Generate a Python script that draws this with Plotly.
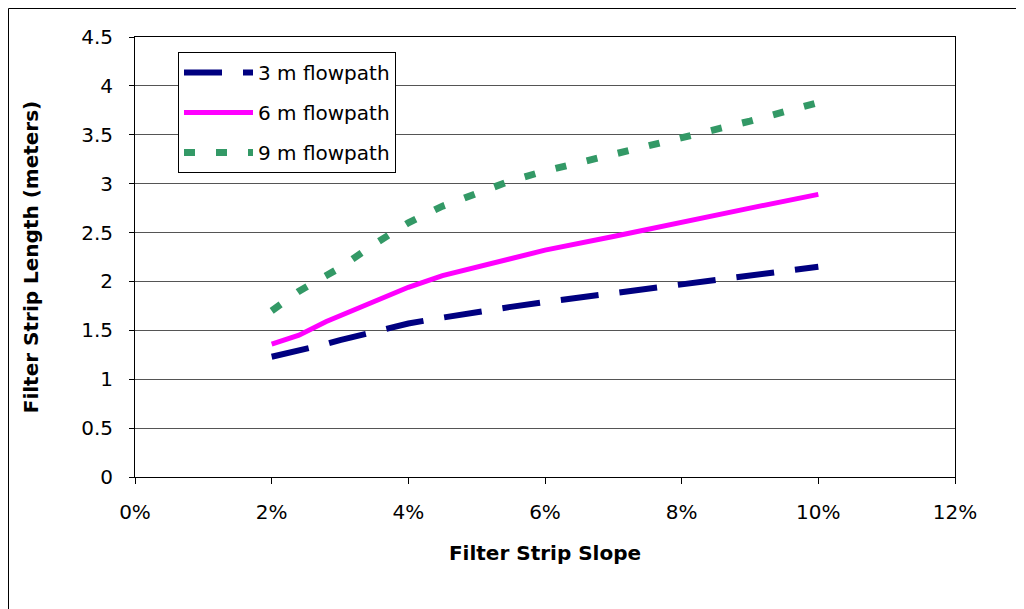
import plotly.graph_objects as go

slope = [0.02, 0.024, 0.028, 0.03, 0.035, 0.04, 0.045, 0.05, 0.055, 0.06, 0.07, 0.074, 0.08, 0.09, 0.10]
flow3 = [1.23, 1.29, 1.36, 1.40, 1.49, 1.57, 1.63, 1.69, 1.74, 1.79, 1.88, 1.91, 1.97, 2.06, 2.15]
flow6 = [1.36, 1.45, 1.59, 1.65, 1.80, 1.94, 2.06, 2.15, 2.24, 2.32, 2.46, 2.52, 2.61, 2.75, 2.89]
flow9 = [1.70, 1.90, 2.06, 2.14, 2.38, 2.60, 2.77, 2.90, 3.03, 3.13, 3.30, 3.37, 3.47, 3.64, 3.83]
names = ["3 m flowpath", "6 m flowpath", "9 m flowpath"]
xticks = [0, 0.02, 0.04, 0.06, 0.08, 0.10, 0.12]
xticklabels = ["0%", "2%", "4%", "6%", "8%", "10%", "12%"]
yticks = [0, 0.5, 1, 1.5, 2, 2.5, 3, 3.5, 4, 4.5]
yticklabels = ["0", "0.5", "1", "1.5", "2", "2.5", "3", "3.5", "4", "4.5"]

FONT = "DejaVu Sans, sans-serif"

fig = go.Figure()
fig.add_trace(go.Scatter(x=slope, y=flow3, mode="lines", name=names[0], legendgroup="a",
                         line=dict(color="#000080", width=6, dash="38px,21px")))
fig.add_trace(go.Scatter(x=slope, y=flow6, mode="lines", name=names[1], legendgroup="b",
                         line=dict(color="#FF00FF", width=5)))
fig.add_trace(go.Scatter(x=slope, y=flow9, mode="lines", name=names[2], legendgroup="c",
                         line=dict(color="#339966", width=7, dash="11px,21px")))

# figure is drawn inside the page's 8px body margin
W, H = 1016, 601
L, R, T, B = 127, 947, 29, 469
pw, ph = R - L, B - T

fig.update_layout(
    width=W, height=H,
    margin=dict(l=L, r=W - R, t=T, b=H - B, autoexpand=False),
    paper_bgcolor="white", plot_bgcolor="white",
    font=dict(family=FONT, size=20, color="black"),
    showlegend=True,
    legend=dict(x=(170 - L) / pw, y=(B - 44) / ph, xanchor="left", yanchor="top",
                bgcolor="white", bordercolor="black", borderwidth=1,
                font=dict(family=FONT, size=20), tracegroupgap=11,
                traceorder="grouped", itemwidth=69),
    xaxis=dict(range=[0, 0.12], tickvals=xticks, ticktext=xticklabels,
               showgrid=False, zeroline=False, showline=True, linecolor="black",
               linewidth=1, mirror=True, ticks="outside", ticklen=6, tickcolor="black",
               tickfont=dict(size=20), ticklabelstandoff=11,
               title=dict(text="<b>Filter Strip Slope</b>", font=dict(size=20), standoff=22)),
    yaxis=dict(range=[0, 4.5], tickvals=yticks, ticktext=yticklabels,
               showgrid=True, gridcolor="#555555", gridwidth=1, zeroline=False,
               showline=True, linecolor="black", linewidth=1, mirror=True,
               ticks="outside", ticklen=5, tickcolor="black", tickfont=dict(size=20),
               ticklabelstandoff=12,
               title=dict(text="<b>Filter Strip Length (meters)</b>", font=dict(size=20), standoff=37)),
    shapes=[dict(type="rect", xref="paper", yref="paper",
                 x0=(0.5 - L) / pw, x1=(1030 - L) / pw,
                 y0=(B - 620) / ph, y1=(B - 0.5) / ph,
                 line=dict(color="black", width=1), fillcolor="rgba(0,0,0,0)", layer="below")],
)

fig.write_html("out.html")
